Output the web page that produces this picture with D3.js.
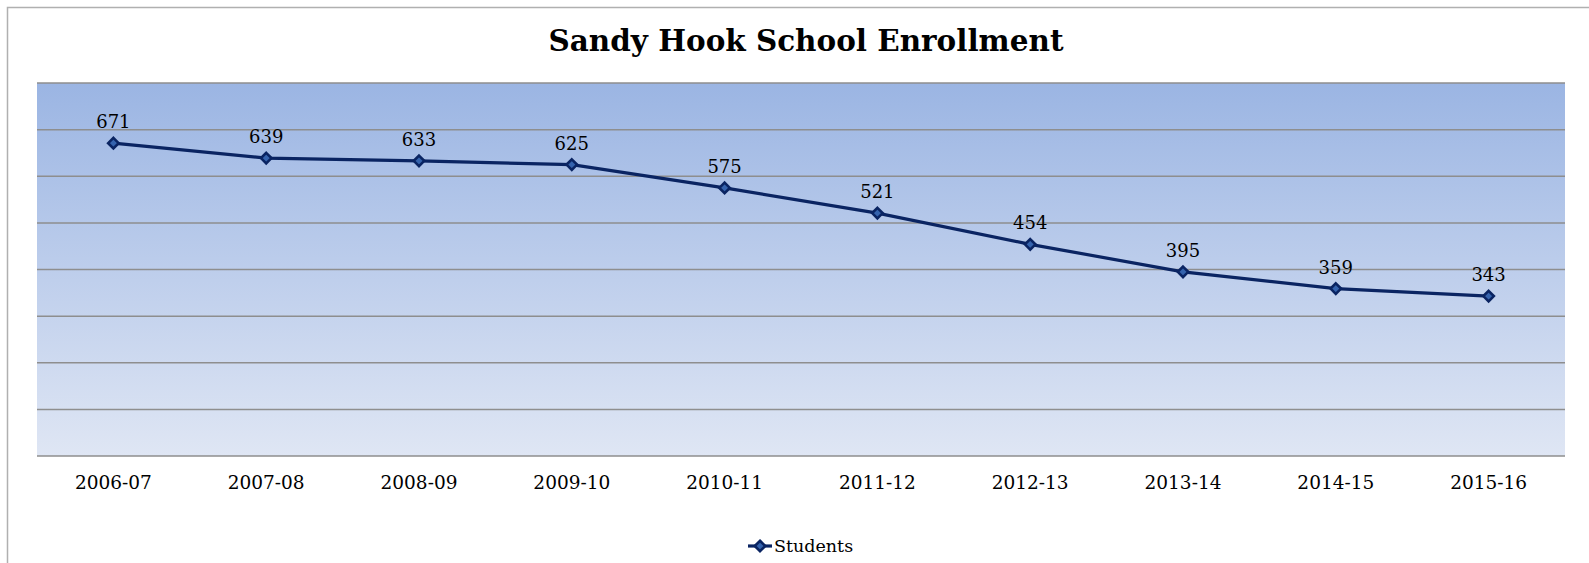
<!DOCTYPE html>
<html><head><meta charset="utf-8">
<script src="https://cdn.jsdelivr.net/npm/d3@7"></script>
<style>body{margin:0;background:#fff;}svg{display:block;}</style>
</head><body>
<svg id="c" width="1589" height="563"></svg>
<script>
const categories = ["2006-07","2007-08","2008-09","2009-10","2010-11","2011-12","2012-13","2013-14","2014-15","2015-16"];
const students = [671,639,633,625,575,521,454,395,359,343];
const yTicks = [0,100,200,300,400,500,600,700,800];
const seriesName = "Students";
const title = "Sandy Hook School Enrollment";

const svg = d3.select("#c");
const font = "'DejaVu Serif', Georgia, serif";
const m = {left:37, right:1565, top:83, bottom:456};

// outer border
svg.append("path").attr("d","M7.5,563 L7.5,7.5 L1589,7.5").attr("fill","none").attr("stroke","#b0b0b0").attr("stroke-width",1.5);

const defs = svg.append("defs");
const g = defs.append("linearGradient").attr("id","bg").attr("x1",0).attr("y1",0).attr("x2",0).attr("y2",1);
g.append("stop").attr("offset","0%").attr("stop-color","#9bb5e3");
g.append("stop").attr("offset","100%").attr("stop-color","#dfe6f4");

const x = d3.scaleBand().domain(categories).range([m.left,m.right]);
const y = d3.scaleLinear().domain([0,800]).range([m.bottom,m.top]);

svg.append("rect").attr("x",m.left).attr("y",m.top).attr("width",m.right-m.left).attr("height",m.bottom-m.top).attr("fill","url(#bg)");

svg.append("g").selectAll("line").data(yTicks).join("line")
  .attr("x1",m.left).attr("x2",m.right)
  .attr("y1",d=>y(d)).attr("y2",d=>y(d))
  .attr("stroke","#8e8e8e").attr("stroke-width",1.5);

// x axis labels
const xa = svg.append("g").attr("transform",`translate(0,${m.bottom})`)
  .call(d3.axisBottom(x).tickSize(0).tickPadding(0));
xa.select(".domain").remove();
xa.selectAll("text").attr("font-family",font).attr("font-size",18.5).attr("fill","#000").attr("dy",0).attr("y",33);

svg.append("text").attr("x",806).attr("y",51).attr("text-anchor","middle")
  .attr("font-family",font).attr("font-weight","bold").attr("font-size",30).attr("fill","#000")
  .attr("textLength",515).attr("lengthAdjust","spacingAndGlyphs").text(title);

const cx = d=>x(d)+x.bandwidth()/2;
const line = d3.line().x((d,i)=>cx(categories[i])).y(d=>y(d));
svg.append("path").datum(students).attr("d",line).attr("fill","none").attr("stroke","#0a2462").attr("stroke-width",3.2);

const diamond = d3.symbol().type(d3.symbolDiamond2).size(70);
svg.append("g").selectAll("path").data(students).join("path")
  .attr("transform",(d,i)=>`translate(${cx(categories[i])},${y(d)})`)
  .attr("d",diamond).attr("fill","#3563ad").attr("stroke","#0a2462").attr("stroke-width",2.6);

svg.append("g").selectAll("text").data(students).join("text")
  .attr("x",(d,i)=>cx(categories[i])).attr("y",d=>y(d)-15)
  .attr("text-anchor","middle").attr("font-family",font).attr("font-size",18).attr("fill","#000").text(d=>d);

// legend
const lg = svg.append("g");
lg.append("line").attr("x1",748).attr("x2",772).attr("y1",546).attr("y2",546).attr("stroke","#0a2462").attr("stroke-width",3.2);
lg.append("path").attr("transform","translate(760,546)").attr("d",diamond).attr("fill","#3563ad").attr("stroke","#0a2462").attr("stroke-width",2.6);
lg.append("text").attr("x",774).attr("y",552).attr("font-family",font).attr("font-size",17.5).attr("fill","#000").text(seriesName);
</script>
</body></html>
